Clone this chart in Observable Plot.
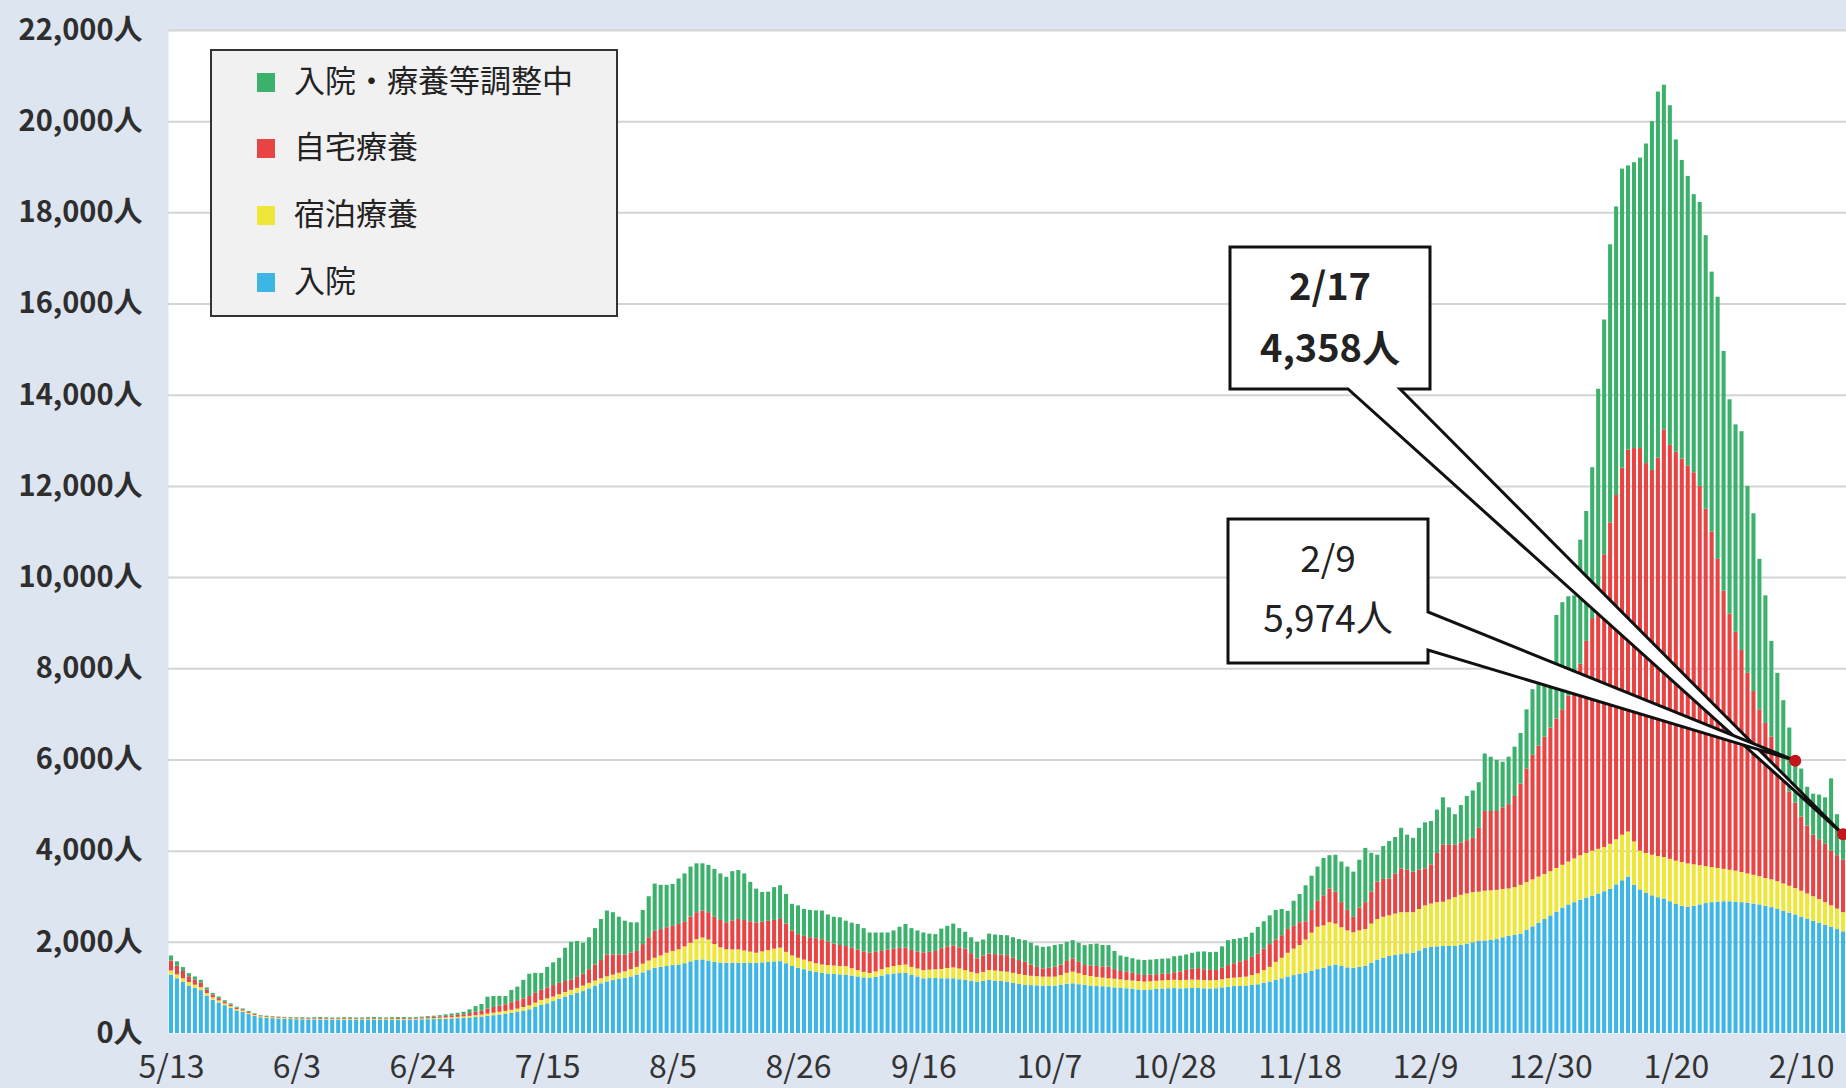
<!DOCTYPE html>
<html><head><meta charset="utf-8">
<script src="https://cdn.jsdelivr.net/npm/d3@7"></script>
<script src="https://cdn.jsdelivr.net/npm/@observablehq/plot@0.6"></script>
<style>
html,body{margin:0;padding:0;background:#dde5f0;}
#wrap{position:relative;width:1846px;height:1088px;overflow:hidden;background:#dde5f0;}
#wrap svg{position:absolute;left:0;top:0;}
.legend{position:absolute;left:210px;top:49px;width:408px;height:268px;background:#f1f1f1;border:2px solid #333;box-sizing:border-box;font-family:"Noto Sans CJK JP",sans-serif;font-size:31px;color:#222;z-index:2;}
.legend .row{position:absolute;left:0;height:40px;line-height:40px;}
.legend .sw{position:absolute;left:45px;top:11px;width:18px;height:19px;}
.legend .lb{position:absolute;left:82px;top:-3px;white-space:nowrap;}
</style>
</head><body>
<div id="wrap"></div>
<script>
// ---- data ----
const startDate = "2020-05-13";
const dayCount = 281;
const tickLabels = ["5/13","6/3","6/24","7/15","8/5","8/26","9/16","10/7","10/28","11/18","12/9","12/30","1/20","2/10"];
const yTicks = [0,2000,4000,6000,8000,10000,12000,14000,16000,18000,20000,22000];
const seriesNames = ["入院","宿泊療養","自宅療養","入院・療養等調整中"];
const seriesColors = ["#3db6e6","#efe63a","#e84444","#3cb16c"];
const legendOrder = ["入院・療養等調整中","自宅療養","宿泊療養","入院"];

// 入院
const hospital = [
1280,1200,1120,1040,990,940,820,
730,670,610,555,495,465,415,
375,345,333,325,317,312,306,
302,300,298,298,297,296,295,
294,293,292,292,291,290,290,
290,290,291,292,293,295,298,
300,303,306,310,315,320,325,
330,340,350,360,375,390,405,
420,440,460,490,520,570,614,
650,700,750,800,836,880,920,
980,1040,1090,1132,1160,1185,1206,
1240,1280,1330,1380,1428,1450,1470,
1490,1502,1530,1570,1600,1613,1590,
1560,1545,1539,1539,1539,1539,1539,
1539,1550,1560,1570,1576,1530,1470,
1428,1400,1370,1340,1317,1305,1295,
1285,1280,1260,1240,1220,1206,1230,
1260,1290,1305,1315,1317,1280,1240,
1200,1205,1206,1200,1200,1200,1180,
1163,1145,1127,1145,1163,1150,1140,
1127,1100,1075,1054,1050,1045,1040,
1040,1040,1060,1080,1090,1070,1054,
1040,1030,1025,1018,1000,990,981,
970,955,945,955,965,975,981,
985,978,983,990,986,980,975,
981,1000,1018,1030,1035,1040,1055,
1068,1100,1130,1163,1200,1240,1270,
1300,1320,1360,1400,1430,1480,1500,
1470,1440,1430,1450,1470,1540,1610,
1650,1690,1710,1730,1750,1760,1810,
1870,1890,1900,1910,1910,1910,1930,
1960,1990,2020,2030,2040,2060,2100,
2130,2150,2180,2260,2340,2420,2500,
2580,2660,2750,2820,2870,2920,2970,
3010,3060,3110,3160,3260,3350,3430,
3250,3150,3080,3020,2980,2950,2890,
2830,2790,2770,2790,2820,2850,2870,
2880,2890,2890,2880,2870,2860,2840,
2820,2790,2760,2720,2680,2640,2600,
2550,2510,2460,2420,2370,2330,2280,
2230];

// 宿泊療養
const hotel = [
90,85,80,75,70,65,55,
50,45,40,35,30,28,25,
22,20,19,18,17,17,16,
15,15,14,14,15,14,13,
13,14,14,13,13,14,15,
14,14,15,15,16,16,16,
18,20,22,24,26,28,30,
33,37,40,44,50,55,60,
65,70,75,80,85,95,111,
110,100,100,100,111,110,120,
120,110,110,111,120,135,148,
160,170,190,210,222,250,290,
310,333,370,410,460,481,460,
390,335,296,296,296,271,246,
222,240,260,280,296,250,230,
222,210,200,190,185,185,185,
185,185,160,140,120,111,120,
140,150,165,175,185,170,175,
180,185,190,205,225,240,235,
218,195,182,195,218,220,215,
218,220,220,218,205,200,196,
196,196,210,240,255,240,218,
210,200,190,182,190,185,182,
180,185,182,180,180,180,182,
182,182,182,182,182,182,182,
182,180,182,185,190,196,215,
241,280,320,397,450,520,580,
630,730,840,930,930,950,900,
850,810,780,800,810,860,890,
900,890,910,920,900,890,910,
930,950,970,970,1020,1070,1100,
1100,1100,1080,1090,1090,1080,1060,
1040,1050,1070,1050,1030,1010,990,
970,960,940,940,960,980,980,
990,980,970,990,990,1000,990,
950,850,870,890,900,910,930,
950,960,950,910,860,810,770,
740,710,690,680,660,640,630,
620,610,610,610,600,590,580,
570,550,540,520,500,470,450,
420];

// 自宅療養
const home = [
220,190,160,130,115,100,75,
60,50,40,35,30,27,24,
20,18,17,16,16,15,15,
14,15,14,15,16,16,15,
15,17,18,17,17,18,19,
18,17,18,19,19,17,18,
22,25,27,30,35,40,43,
48,60,75,85,110,125,135,
145,165,185,190,205,215,222,
240,250,250,240,223,240,260,
300,350,400,481,444,404,370,
360,350,430,510,592,580,560,
550,555,550,570,590,592,600,
600,600,592,635,666,670,665,
666,650,640,630,629,620,550,
518,520,530,550,555,520,480,
460,444,450,450,450,444,430,
400,390,380,380,370,370,375,
390,390,404,455,475,480,465,
473,410,327,360,364,360,365,
363,330,305,291,245,205,182,
194,218,230,260,291,250,218,
230,240,245,254,210,185,182,
170,150,145,145,145,145,146,
167,187,217,237,255,237,227,
218,250,290,315,345,364,400,
436,470,500,490,495,520,500,
500,400,500,570,660,740,700,
550,450,340,500,590,700,820,
830,810,880,960,930,890,860,
810,860,1080,1250,1210,1150,1150,
1170,1190,1400,1750,1740,1730,1790,
1850,2000,2220,2490,2730,2870,3010,
3150,3280,3410,3640,3870,4200,4650,
5100,5760,6420,7050,7550,8050,8380,
8630,8830,8550,8440,8740,9380,9080,
8970,8850,8730,8600,8320,7840,7360,
6780,6100,5620,5240,4870,4400,4030,
3660,3400,3130,2770,2420,2070,1870,
1630,1490,1350,1310,1280,1200,1170,
1150];

// 入院・療養等調整中
const adjusting = [
110,97,86,68,65,61,50,
40,35,30,25,21,19,16,
13,12,11,11,10,10,13,
14,15,14,18,22,19,17,
18,21,21,18,19,23,26,
23,19,21,24,22,17,18,
20,22,25,27,34,40,45,
54,83,125,146,262,242,215,
180,270,298,406,490,440,370,
450,500,550,730,830,790,680,
700,800,900,962,926,826,740,
670,627,750,900,1036,970,930,
920,999,1050,1100,1072,1036,1035,
1050,1020,999,1080,1073,1020,865,
740,653,640,720,740,650,584,
632,593,600,610,629,590,590,
608,555,550,560,510,444,425,
405,375,400,460,518,480,460,
435,400,370,430,450,480,420,
366,350,364,350,435,430,430,
437,450,460,473,480,470,472,
470,476,450,420,400,420,437,
470,490,470,473,400,340,327,
320,320,328,330,330,330,327,
350,350,340,350,363,390,390,
400,470,546,530,510,508,530,
581,600,630,650,575,400,550,
620,790,750,750,820,730,810,
890,950,990,1050,1190,850,590,
720,820,800,890,770,740,920,
1010,950,950,1040,810,670,820,
970,1040,1000,1260,1190,1120,1000,
1040,1080,1110,1300,1440,1350,1260,
1000,2270,2350,2180,1900,2720,2850,
3310,4330,5150,6100,6330,6560,6230,
6270,6370,7010,7650,8030,7560,7450,
6850,6550,6350,6100,6230,6000,5700,
5750,5260,4700,4550,4800,4100,3900,
3300,2800,2100,1800,1600,1400,924,
1050,850,900,980,1020,1585,900,
558];

// callouts
const annoDates = ["2021-02-17","2021-02-09"];
const annoValues = [4358, 5974];
const annoLabels = ["2/17","2/9"];

// ---- build ----
const start = new Date(startDate + "T00:00:00Z");
const iso = d3.utcFormat("%Y-%m-%d");
const md = d3.utcFormat("%-m/%-d");
const dates = d3.utcDay.range(start, d3.utcDay.offset(start, dayCount)).map(iso);
const fmtMD = s => md(new Date(s + "T00:00:00Z"));
const xTicks = dates.filter(s => tickLabels.includes(fmtMD(s)));

const seriesData = [hospital, hotel, home, adjusting];
const rows = [];
dates.forEach((d, i) => {
  seriesNames.forEach((name, k) => rows.push({date: d, series: name, value: seriesData[k][i]}));
});

const FONT = "'Noto Sans CJK JP', 'Noto Sans', sans-serif";

const chart = Plot.plot({
  width: 1846, height: 1088,
  marginLeft: 168, marginRight: 0, marginTop: 30, marginBottom: 55,
  style: {background: "transparent", fontFamily: FONT, overflow: "visible"},
  x: {type: "band", domain: dates, paddingInner: 0.32, paddingOuter: 0.16},
  y: {domain: [0, 22000]},
  color: {domain: seriesNames, range: seriesColors},
  marks: [
    Plot.frame({fill: "white", stroke: "none"}),
    Plot.ruleY(yTicks.filter(v => v > 0), {stroke: "#d4d4d4", strokeWidth: 2}),
    Plot.barY(rows, {x: "date", y: "value", fill: "series", order: seriesNames}),
    Plot.axisY(yTicks, {tickSize: 0, tickPadding: 26, fontSize: 29, fontWeight: "bold", fill: "#2e2e2e",
      tickFormat: v => d3.format(",")(v) + "人", label: null}),
    Plot.axisX(xTicks, {tickSize: 0, tickPadding: 22, fontSize: 32, fill: "#333",
      tickFormat: fmtMD, label: null})
  ]
});

const wrap = document.getElementById("wrap");
wrap.appendChild(chart);

// callouts drawn with the chart's scales
const xs = chart.scale("x"), ys = chart.scale("y");
const svg = d3.select(chart);
const g = svg.append("g");
function tip(i) { return [xs.apply(annoDates[i]) + xs.bandwidth / 2, ys.apply(annoValues[i])]; }
const fmtN = d3.format(",");

// callout 1 (2/17): box with wedge from its bottom edge
{
  const [tx, ty] = tip(0);
  const x0 = 1230, y0 = 247, x1 = 1430, y1 = 389, b1 = 1348, b2 = 1400;
  g.append("path")
    .attr("d", `M${x0},${y0}H${x1}V${y1}H${b2}L${tx},${ty}L${b1},${y1}H${x0}Z`)
    .attr("fill", "white").attr("stroke", "#111").attr("stroke-width", 3).attr("stroke-linejoin", "miter");
  g.append("text").attr("x", (x0 + x1) / 2).attr("y", 283).text(annoLabels[0])
    .attr("font-size", 38).attr("font-weight", "bold");
  g.append("text").attr("x", (x0 + x1) / 2).attr("y", 345).text(fmtN(annoValues[0]) + "人")
    .attr("font-size", 38).attr("font-weight", "bold");
}
// callout 2 (2/9): box with wedge from its right edge
{
  const [tx, ty] = tip(1);
  const x0 = 1228, y0 = 519, x1 = 1428, y1 = 663, b1 = 612, b2 = 650;
  g.append("path")
    .attr("d", `M${x0},${y0}H${x1}V${b1}L${tx},${ty}L${x1},${b2}V${y1}H${x0}Z`)
    .attr("fill", "white").attr("stroke", "#111").attr("stroke-width", 3);
  g.append("text").attr("x", (x0 + x1) / 2).attr("y", 556).text(annoLabels[1])
    .attr("font-size", 37);
  g.append("text").attr("x", (x0 + x1) / 2).attr("y", 616).text(fmtN(annoValues[1]) + "人")
    .attr("font-size", 37);
}
g.selectAll("text").attr("text-anchor", "middle").attr("dominant-baseline", "central")
  .attr("font-family", FONT).attr("fill", "#222");
[0, 1].forEach(i => {
  const [tx, ty] = tip(i);
  g.append("circle").attr("cx", tx).attr("cy", ty).attr("r", 6).attr("fill", "#c3161c");
});

// legend
const leg = document.createElement("div");
leg.className = "legend";
const rowTops = [11, 77, 144, 211];
legendOrder.forEach((name, j) => {
  const r = document.createElement("div");
  r.className = "row";
  r.style.top = rowTops[j] + "px";
  const sw = document.createElement("span");
  sw.className = "sw";
  sw.style.background = seriesColors[seriesNames.indexOf(name)];
  const lb = document.createElement("span");
  lb.className = "lb";
  lb.textContent = name;
  r.appendChild(sw); r.appendChild(lb);
  leg.appendChild(r);
});
wrap.appendChild(leg);
</script>
</body></html>
